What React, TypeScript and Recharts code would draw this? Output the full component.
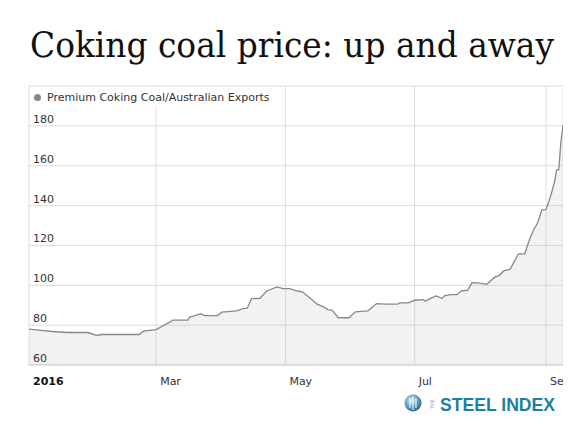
import { ComposedChart, Area, XAxis, YAxis, CartesianGrid, Legend } from "recharts";

// day of year 2016 (0 = 1 Jan) and price in US$/t
const days = [
  0, 7, 11, 18, 28, 32, 34, 52, 54, 60, 68, 75, 76, 77, 81, 83, 89, 91, 98, 101,
  103, 105, 109, 112, 117, 120, 123, 127, 129, 133, 136, 139, 141, 143, 146, 151,
  154, 160, 164, 168, 174, 175, 179, 182, 186, 187, 189, 192, 195, 196, 199, 202,
  204, 207, 209, 212, 216, 220, 222, 224, 227, 231, 234, 236, 238, 240, 242, 244,
  246, 248, 249, 250, 251, 252,
];
const prices = [
  78, 77.2, 76.8, 76.3, 76.3, 74.8, 75.3, 75.3, 77, 77.8, 82.5, 82.5, 84.3, 84.3,
  85.8, 84.8, 84.8, 86.5, 87.2, 88.3, 88.5, 93.3, 93.5, 97, 99.2, 98.3, 98.3, 97,
  96.7, 93.3, 90.5, 89.2, 87.8, 87.5, 83.7, 83.7, 86.7, 87.2, 90.8, 90.5, 90.5,
  91.2, 91.2, 92.5, 92.8, 92, 93.2, 94.7, 93.5, 94.7, 95.3, 95.3, 97.2, 97.5,
  101.3, 101.2, 100.5, 104.2, 105, 107.2, 108, 115.8, 115.8, 122.5, 127.5, 131.2,
  137.8, 138, 144.2, 151.7, 157.8, 158, 171.7, 180.3,
];

const xTicks = [0, 60, 121, 182, 244];
const xTickLabels = ["2016", "Mar", "May", "Jul", "Sep"];
const yTicks = [60, 80, 100, 120, 140, 160, 180, 200];
const seriesName = "Premium Coking Coal/Australian Exports";

const data = days.map((day, i) => ({ day, price: prices[i] }));

const PLOT_LEFT = 29;
const FONT = "'DejaVu Sans', Verdana, sans-serif";

function XTick({ x, y, payload }: any) {
  const i = xTicks.indexOf(payload.value);
  return (
    <text
      x={x + 4}
      y={y + 12}
      fontSize={11}
      fontFamily={FONT}
      fontWeight={i === 0 ? "bold" : "normal"}
      fill={i === 0 ? "#111" : "#333"}
      textAnchor="start"
    >
      {xTickLabels[i]}
    </text>
  );
}

function YTick({ y, payload }: any) {
  if (payload.value >= 200) return <g />;
  return (
    <text x={PLOT_LEFT + 4} y={y - 3} fontSize={11} fontFamily={FONT} fill="#333" textAnchor="start">
      {payload.value}
    </text>
  );
}

function LegendBox({ payload }: any) {
  const item = payload && payload[0];
  return (
    <div style={{ display: "flex", alignItems: "center", height: 20, background: "#fff", fontFamily: FONT, fontSize: 11, color: "#333" }}>
      <span style={{ width: 7, height: 7, borderRadius: 4, background: "#888", marginLeft: 4, marginRight: 6 }} />
      <span>{item ? item.value : seriesName}</span>
    </div>
  );
}

function Overlay() {
  return (
    <svg width={586} height={430} style={{ position: "absolute", left: 0, top: 0, pointerEvents: "none" }}>
      <defs>
        <radialGradient id="globe" cx="40%" cy="35%" r="70%">
          <stop offset="0%" stopColor="#d8ecf5" />
          <stop offset="55%" stopColor="#5f9fc4" />
          <stop offset="100%" stopColor="#285f86" />
        </radialGradient>
      </defs>
      <text x={30} y={57} fontSize={36} fontFamily="'DejaVu Serif', serif" fill="#111" textLength={524} lengthAdjust="spacingAndGlyphs">
        Coking coal price: up and away
      </text>
      <circle cx={413} cy={403} r={8.5} fill="url(#globe)" />
      <line x1={410} y1={398} x2={410} y2={408} stroke="#fff" strokeWidth={1.2} opacity={0.8} />
      <line x1={413} y1={396} x2={413} y2={410} stroke="#fff" strokeWidth={1.2} opacity={0.8} />
      <line x1={416} y1={398} x2={416} y2={408} stroke="#fff" strokeWidth={1.2} opacity={0.8} />
      <text x={434} y={404} fontSize={5} fontFamily={FONT} fill="#999" textAnchor="middle" transform="rotate(-90 434 404)">
        THE
      </text>
      <text x={440} y={411} fontSize={19} fontFamily="'Liberation Sans', Arial, sans-serif" fontWeight="bold" fill="#1f7fa2" textLength={115} lengthAdjust="spacingAndGlyphs">
        STEEL INDEX
      </text>
    </svg>
  );
}

export default function App() {
  return (
    <div style={{ position: "absolute", left: 0, top: 0, width: 586, height: 430, background: "#fff" }}>
      <ComposedChart width={563} height={430} data={data} margin={{ top: 66, right: 0, bottom: 35, left: 0 }}>
        <CartesianGrid stroke="#dcdcdc" strokeWidth={1} />
        <XAxis
          dataKey="day"
          type="number"
          domain={[0, 252]}
          ticks={xTicks}
          tick={<XTick />}
          tickLine={false}
          axisLine={{ stroke: "#cfcfcf" }}
          interval={0}
          height={30}
        />
        <YAxis
          type="number"
          domain={[60, 200]}
          ticks={yTicks}
          width={PLOT_LEFT}
          tick={<YTick />}
          tickLine={false}
          axisLine={false}
          interval={0}
        />
        <Legend
          verticalAlign="top"
          align="left"
          height={20}
          content={<LegendBox />}
          wrapperStyle={{ top: 87, left: 30, width: 245, height: 20 }}
        />
        <Area
          type="linear"
          dataKey="price"
          name={seriesName}
          stroke="#888"
          strokeWidth={1.3}
          fill="#c4c4c4"
          fillOpacity={0.22}
          dot={false}
          activeDot={false}
          isAnimationActive={false}
        />
      </ComposedChart>
      <Overlay />
    </div>
  );
}
